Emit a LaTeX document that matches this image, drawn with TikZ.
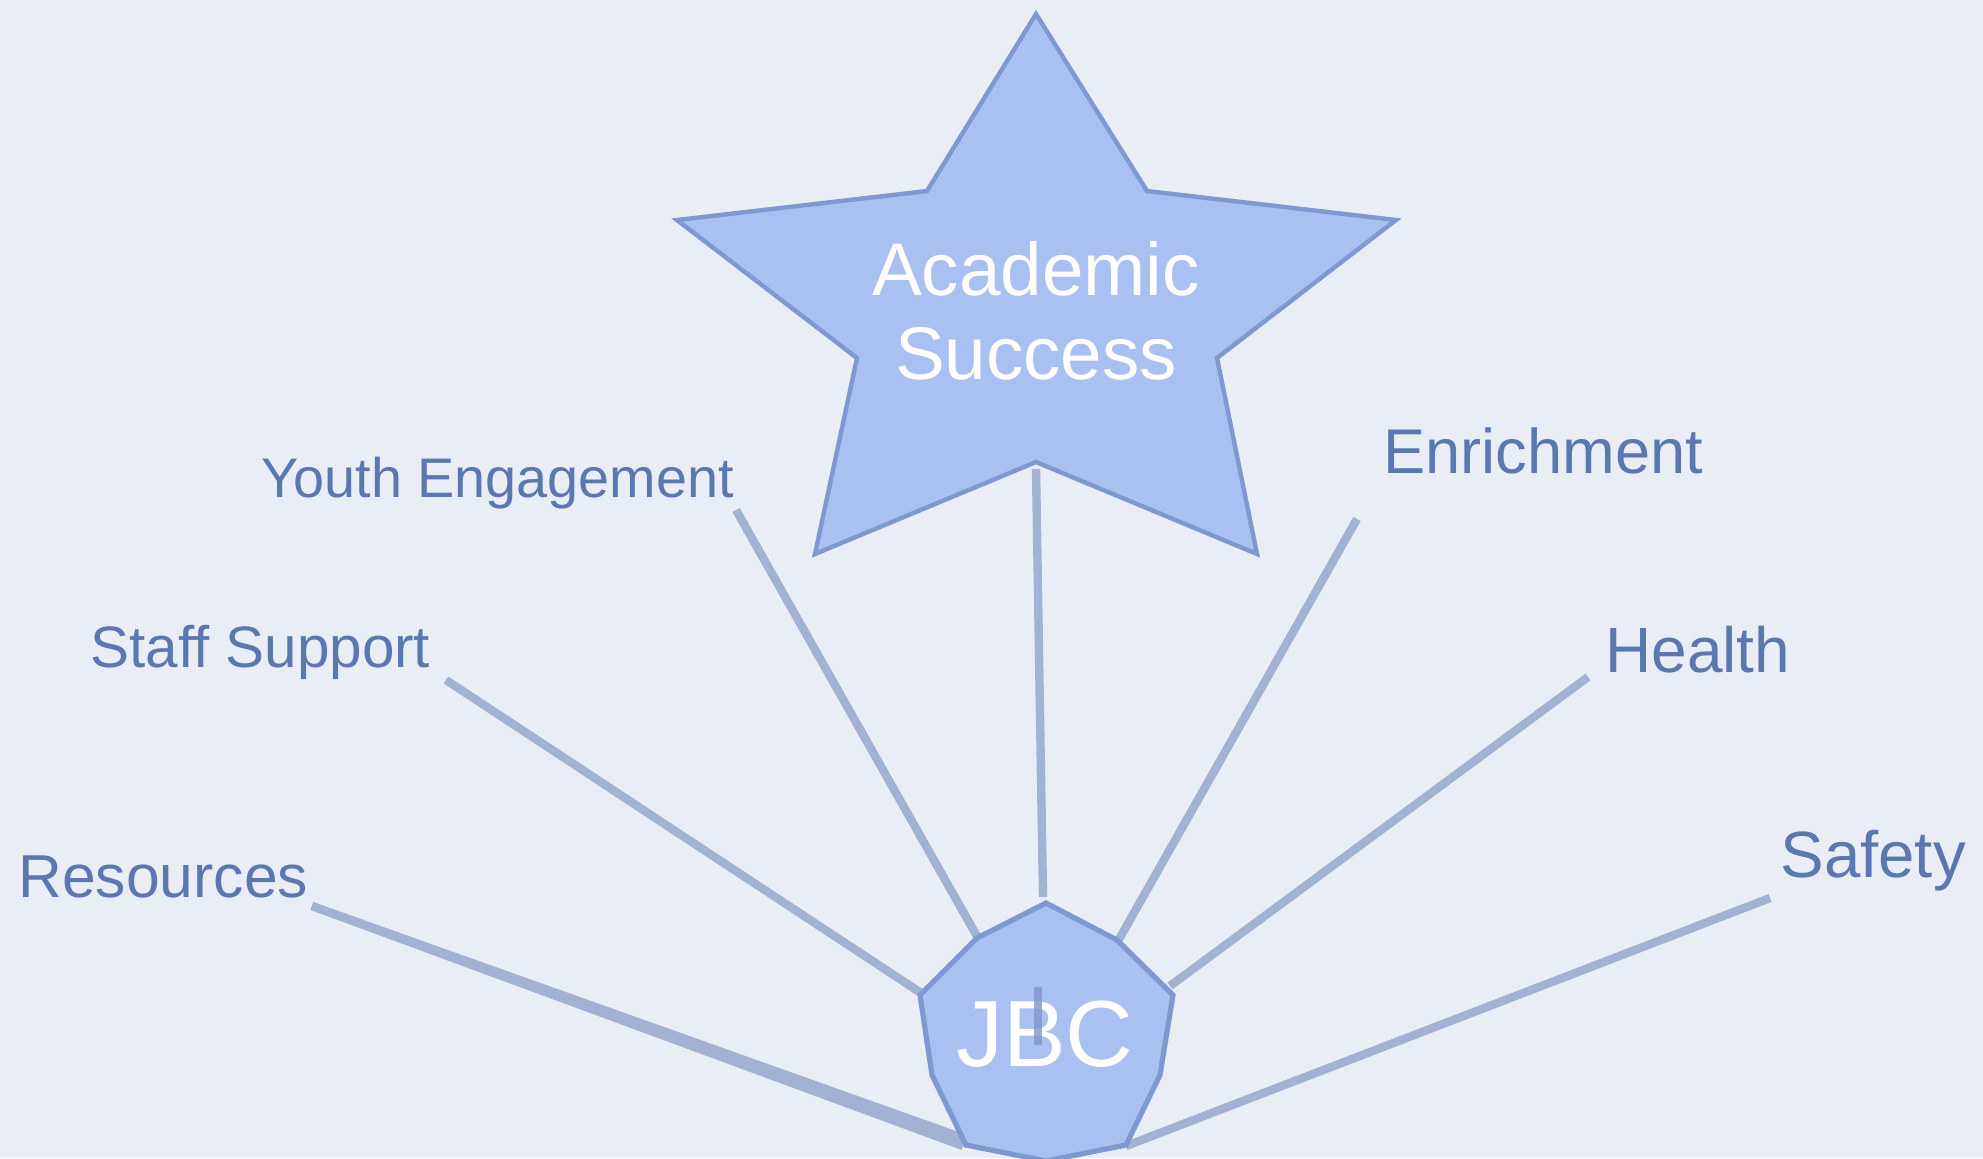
\documentclass[tikz,border=0pt]{standalone}
\usepackage{fontspec}
\setmainfont{Liberation Sans}
\definecolor{bgcol}{HTML}{E9EDF6}
\definecolor{txtcol}{HTML}{5A78AF}
\definecolor{linecol}{HTML}{A2B2D2}
\definecolor{shapefill}{HTML}{A8C1F0}
\definecolor{shapeedge}{HTML}{7E99CF}
\definecolor{innerline}{HTML}{7F97C8}
\begin{document}
\begin{tikzpicture}[x=0.5pt,y=-0.5pt,
  lbl/.style={anchor=base west,inner sep=0pt,text=txtcol},
  conn/.style={draw=linecol,line width=4.2pt},
  shapestyle/.style={fill=shapefill,draw=shapeedge,line width=2.2pt,line join=miter},
  wtxt/.style={anchor=base,inner sep=0pt,text=white}]
\useasboundingbox (0,0) rectangle (1983,1158);
\fill[bgcol] (0,0) rectangle (1983,1158);
\clip (0,0) rectangle (1983,1158);

% label nodes
\node[lbl,font=\fontsize{30.3}{36}\selectfont] (res) at (18,897) {Resources};
\node[lbl,font=\fontsize{29.2}{35}\selectfont] (staff) at (90,667) {Staff Support};
\node[lbl,font=\fontsize{27.9}{33}\selectfont] (youth) at (261,497) {Youth Engagement};
\node[lbl,font=\fontsize{31.6}{38}\selectfont] (enr) at (1383,473) {Enrichment};
\node[lbl,font=\fontsize{32}{38}\selectfont] (health) at (1605,672) {Health};
\node[lbl,font=\fontsize{32.7}{39}\selectfont] (safety) at (1780,877) {Safety};

% connector end points
\coordinate (resA) at (312,906);
\coordinate (resB) at (966,1139);
\coordinate (resC) at (963,1146);
\coordinate (staffA) at (446,680);
\coordinate (staffB) at (921,993);
\coordinate (youthA) at (736,510);
\coordinate (youthB) at (978,938);
\coordinate (starB) at (1036,469);
\coordinate (jbcT) at (1043,897);
\coordinate (enrA) at (1357,519);
\coordinate (enrB) at (1118,941);
\coordinate (healthA) at (1588,677);
\coordinate (healthB) at (1170,986);
\coordinate (safetyA) at (1770,898);
\coordinate (safetyB) at (1126,1146);

% connectors
\draw[conn] (resA) -- (resB);
\draw[conn] (resA) -- (resC);
\draw[conn] (staffA) -- (staffB);
\draw[conn] (youthA) -- (youthB);
\draw[conn] (starB) -- (jbcT);
\draw[conn] (enrA) -- (enrB);
\draw[conn] (healthA) -- (healthB);
\draw[conn] (safetyA) -- (safetyB);

% star
\draw[shapestyle] (1036,14) -- (927,191) -- (677,220) -- (857,358) -- (815,554)
  -- (1036,462) -- (1257,554) -- (1217,358) -- (1396,220) -- (1147,191) -- cycle;
\node[wtxt,font=\fontsize{37.3}{42}\selectfont] (acad) at (1036,295) {Academic};
\node[wtxt,font=\fontsize{37.3}{42}\selectfont] (succ) at (1036,379) {Success};

% JBC polygon
\draw[shapestyle,line width=2.6pt] (1046,903) -- (977,938) -- (920,995) -- (932,1075) -- (966,1145)
  -- (1046,1161) -- (1126,1145) -- (1160,1075) -- (1173,995) -- (1117,940) -- cycle;
\node[wtxt,font=\fontsize{47}{52}\selectfont] (jbc) at (1045,1066) {JBC};
\coordinate (inA) at (1038,987);
\coordinate (inB) at (1038,1045);
\draw[draw=innerline,line width=4pt,opacity=0.8] (inA) -- (inB);
\end{tikzpicture}
\end{document}
